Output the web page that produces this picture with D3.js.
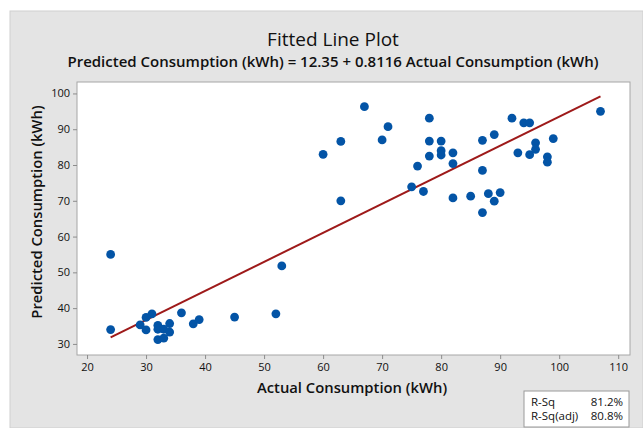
<!DOCTYPE html>
<html>
<head>
<meta charset="utf-8">
<script src="https://cdn.jsdelivr.net/npm/d3@7"></script>
<style>
  body { margin: 0; background: #fff; }
  svg { display: block; font-family: "Open Sans", "Noto Sans", sans-serif; }
</style>
</head>
<body>
<svg id="chart" width="643" height="428"></svg>
<script>
// actual vs predicted consumption (kWh)
var actual = [24, 24, 29, 30, 30, 31, 32, 32, 32, 33, 33, 34, 34, 36, 38, 39, 45, 52, 53,
  60, 63, 63, 67, 70, 71, 75, 76, 77, 78, 78, 78, 80, 80, 80, 82, 82, 82, 85,
  87, 87, 87, 88, 89, 89, 90, 92, 93, 94, 95, 95, 96, 96, 98, 98, 99, 107];
var predicted = [55, 34, 35.3, 37.4, 33.9, 38.4, 35.2, 34.1, 31.2, 34.1, 31.6, 35.7, 33.3, 38.7, 35.6, 36.8, 37.5, 38.4, 51.8,
  83, 86.6, 70, 96.3, 87, 90.7, 73.9, 79.7, 72.6, 93.1, 86.7, 82.5, 86.7, 84, 82.8, 83.4, 80.4, 70.8, 71.3,
  66.7, 78.5, 86.9, 72, 69.9, 88.5, 72.3, 93.1, 83.4, 91.8, 91.8, 82.9, 86.2, 84.4, 82.3, 80.8, 87.4, 95];
var xTicks = [20, 30, 40, 50, 60, 70, 80, 90, 100, 110];
var yTicks = [30, 40, 50, 60, 70, 80, 90, 100];
var intercept = 12.35, slope = 0.8116;
var stats = [["R-Sq", "81.2%"], ["R-Sq(adj)", "80.8%"]];

var svg = d3.select("#chart");
var pl = 77, pr = 630, pt = 82, pb = 355;

svg.append("rect").attr("x", 10).attr("y", 11).attr("width", 633).attr("height", 417)
    .attr("fill", "#e4e4e4").attr("stroke", "#cfcfcf");

var x = d3.scaleLinear().domain([18.3, 112]).range([pl, pr]);
var y = d3.scaleLinear().domain([26.9, 103.2]).range([pb, pt]);

svg.append("rect").attr("x", pl).attr("y", pt).attr("width", pr - pl).attr("height", pb - pt)
    .attr("fill", "#fff").attr("stroke", "#a6a6a6");

var xAxis = svg.append("g").attr("transform", "translate(0," + pb + ")")
    .call(d3.axisBottom(x).tickValues(xTicks).tickSize(4).tickPadding(4));
var yAxis = svg.append("g").attr("transform", "translate(" + pl + ",0)")
    .call(d3.axisLeft(y).tickValues(yTicks).tickSize(4).tickPadding(3));
[xAxis, yAxis].forEach(function(a) {
  a.select(".domain").remove();
  a.selectAll("line").attr("stroke", "#8c8c8c");
  a.selectAll("text").attr("fill", "#111").style("font-size", "11px")
    .style("font-family", "'Open Sans', sans-serif");
});

// fitted line
var ends = d3.extent(actual);
svg.append("path")
    .datum(ends)
    .attr("d", d3.line().x(function(d) { return x(d); }).y(function(d) { return y(intercept + slope * d); }))
    .attr("stroke", "#9e1a1a").attr("stroke-width", 2).attr("fill", "none");

svg.append("g").selectAll("circle")
    .data(actual)
    .enter().append("circle")
    .attr("cx", function(d) { return x(d); })
    .attr("cy", function(d, i) { return y(predicted[i]); })
    .attr("r", 4.4)
    .attr("fill", "#0354a6");

svg.append("text").attr("x", 333).attr("y", 46).attr("text-anchor", "middle")
    .style("font-size", "19px").style("font-weight", 500).attr("fill", "#111").text("Fitted Line Plot");
svg.append("text").attr("x", 333).attr("y", 67).attr("text-anchor", "middle")
    .style("font-size", "15px").style("font-weight", 600).attr("fill", "#111")
    .text("Predicted Consumption (kWh) = 12.35 + 0.8116 Actual Consumption (kWh)");

svg.append("text").attr("x", 352).attr("y", 393).attr("text-anchor", "middle")
    .style("font-size", "14.8px").style("font-weight", 600).attr("fill", "#111")
    .text("Actual Consumption (kWh)");
svg.append("text").attr("transform", "translate(42," + 212 + ") rotate(-90)")
    .attr("text-anchor", "middle")
    .style("font-size", "14.8px").style("font-weight", 600).attr("fill", "#111")
    .text("Predicted Consumption (kWh)");

// R-Sq box
var box = svg.append("g").attr("transform", "translate(524,391)");
box.append("rect").attr("width", 105).attr("height", 36).attr("fill", "#fff").attr("stroke", "#999");
stats.forEach(function(s, i) {
  box.append("text").attr("x", 7).attr("y", 15 + i * 14).style("font-size", "11.5px").attr("fill", "#111").text(s[0]);
  box.append("text").attr("x", 99).attr("y", 15 + i * 14).attr("text-anchor", "end")
      .style("font-size", "11.5px").attr("fill", "#111").text(s[1]);
});
</script>
</body>
</html>
